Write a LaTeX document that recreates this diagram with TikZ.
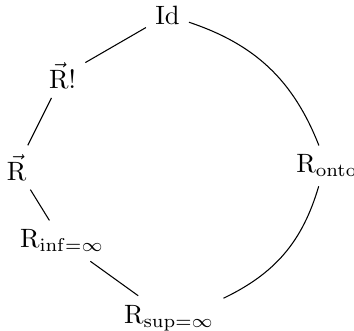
\documentclass[tikz,border=0pt]{standalone}
\begin{document}
\begin{tikzpicture}[x=1pt,y=1pt,
  vx/.style={inner sep=3.333pt},
  edge/.style={draw=black,line width=0.4pt}]
\useasboundingbox (0,0) rectangle (133.6,-124.9);
\node[vx] (id)    at (63.2,-5.7)   {Id};
\node[vx] (rb)    at (23.6,-28.6)  {$\vec{\mathrm{R}}!$};
\node[vx] (r)     at (6.3,-63.2)   {$\vec{\mathrm{R}}$};
\node[vx] (rinf)  at (23.4,-90.9)  {$\mathrm{R}_{\mathrm{inf}=\infty}$};
\node[vx] (rsup)  at (63.8,-120.0) {$\mathrm{R}_{\mathrm{sup}=\infty}$};
\node[vx] (ronto) at (123.4,-62.6) {$\mathrm{R}_{\mathrm{onto}}$};
\draw[edge] (id) -- (rb);
\draw[edge] (rb) -- (r);
\draw[edge] (r) -- (rinf);
\draw[edge] (rinf) -- (rsup);
\draw[edge] (id) to[bend left=25] (ronto);
\draw[edge] (ronto) to[bend left=24] (rsup);
\end{tikzpicture}
\end{document}
